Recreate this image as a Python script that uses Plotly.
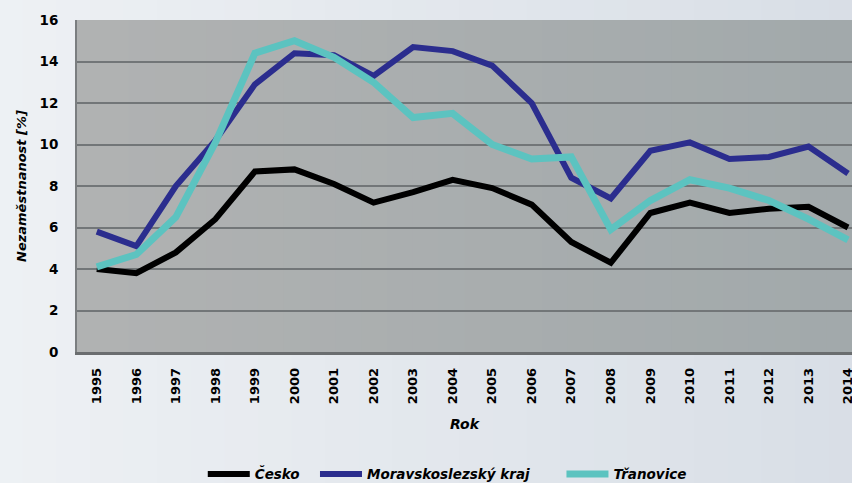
import plotly.graph_objects as go

years = [str(y) for y in range(1995, 2015)]
cesko = [4.0, 3.8, 4.8, 6.4, 8.7, 8.8, 8.1, 7.2, 7.7, 8.3, 7.9, 7.1, 5.3, 4.3, 6.7, 7.2, 6.7, 6.9, 7.0, 6.0]
msk = [5.8, 5.1, 8.0, 10.2, 12.9, 14.4, 14.3, 13.3, 14.7, 14.5, 13.8, 12.0, 8.4, 7.4, 9.7, 10.1, 9.3, 9.4, 9.9, 8.6]
tranovice = [4.1, 4.7, 6.5, 10.1, 14.4, 15.0, 14.2, 13.0, 11.3, 11.5, 10.0, 9.3, 9.4, 5.9, 7.3, 8.3, 7.9, 7.3, 6.4, 5.4]
series_names = ["Česko", "Moravskoslezský kraj", "Třanovice"]
y_ticks = [0, 2, 4, 6, 8, 10, 12, 14, 16]

FONT = "DejaVu Sans"

fig = go.Figure()
fig.add_trace(go.Scatter(x=years, y=cesko, name=series_names[0], mode="lines", legend="legend",
                         line=dict(color="#000000", width=6)))
fig.add_trace(go.Scatter(x=years, y=msk, name=series_names[1], mode="lines", legend="legend2",
                         line=dict(color="#2b2d8e", width=6)))
fig.add_trace(go.Scatter(x=years, y=tranovice, name=series_names[2], mode="lines", legend="legend3",
                         line=dict(color="#5cc3c0", width=7)))


def lerp(c1, c2, t):
    return "#%02x%02x%02x" % tuple(round(a + (b - a) * t) for a, b in zip(c1, c2))


shapes = []
n = 30
# paper gradient
p_left, p_right = (239, 242, 245), (215, 221, 229)
for i in range(n):
    shapes.append(dict(type="rect", xref="paper", yref="paper",
                       x0=-0.2 + 1.3 * i / n, x1=-0.2 + 1.3 * (i + 1) / n + 0.003,
                       y0=-0.6, y1=1.2, layer="below", line_width=0,
                       fillcolor=lerp(p_left, p_right, i / (n - 1))))
# plot area gradient
a_left, a_right = (176, 178, 178), (162, 169, 171)
for i in range(n):
    shapes.append(dict(type="rect", xref="x domain", yref="y domain",
                       x0=i / n, x1=(i + 1) / n + 0.002, y0=0, y1=1,
                       layer="below", line_width=0,
                       fillcolor=lerp(a_left, a_right, i / (n - 1))))

legend_font = dict(family=FONT, size=13.5, color="#000", weight="bold", style="italic")


def leg(x):
    return dict(orientation="h", xref="container", yref="container",
                x=x, xanchor="left", y=0.018, yanchor="middle",
                font=legend_font, bgcolor="rgba(0,0,0,0)", itemwidth=42)


fig.update_layout(
    width=852, height=483,
    margin=dict(l=77, r=0, t=20, b=131),
    paper_bgcolor="#e6eaef",
    plot_bgcolor="#a8abac",
    shapes=shapes,
    showlegend=True,
    legend=leg(0.238),
    legend2=leg(0.3697),
    legend3=leg(0.659),
    xaxis=dict(
        type="category", range=[-0.5, 19.1], automargin=False,
        tickangle=-90, showgrid=False, ticks="", ticklabelstandoff=8,
        tickfont=dict(family=FONT, size=13, color="#000", weight="bold"),
        showline=True, linecolor="#6a6d6f", linewidth=2.5,
        title=dict(text="Rok", standoff=17,
                   font=dict(family=FONT, size=14, color="#000", weight="bold", style="italic")),
        zeroline=False,
    ),
    yaxis=dict(
        range=[0, 16], tickvals=y_ticks, showgrid=True, gridcolor="#727678", gridwidth=1.6,
        automargin=False,
        tickfont=dict(family=FONT, size=13.5, color="#000", weight="bold"),
        ticks="", ticklabelstandoff=14,
        showline=True, linecolor="#7b7e80", linewidth=2,
        zeroline=False,
        title=dict(text="Nezaměstnanost [%]", standoff=10,
                   font=dict(family=FONT, size=13, color="#000", weight="bold", style="italic")),
    ),
)

fig.write_html("out.html", config={"displayModeBar": False},
               post_script="document.body.style.margin='0';document.body.style.overflow='hidden';")
